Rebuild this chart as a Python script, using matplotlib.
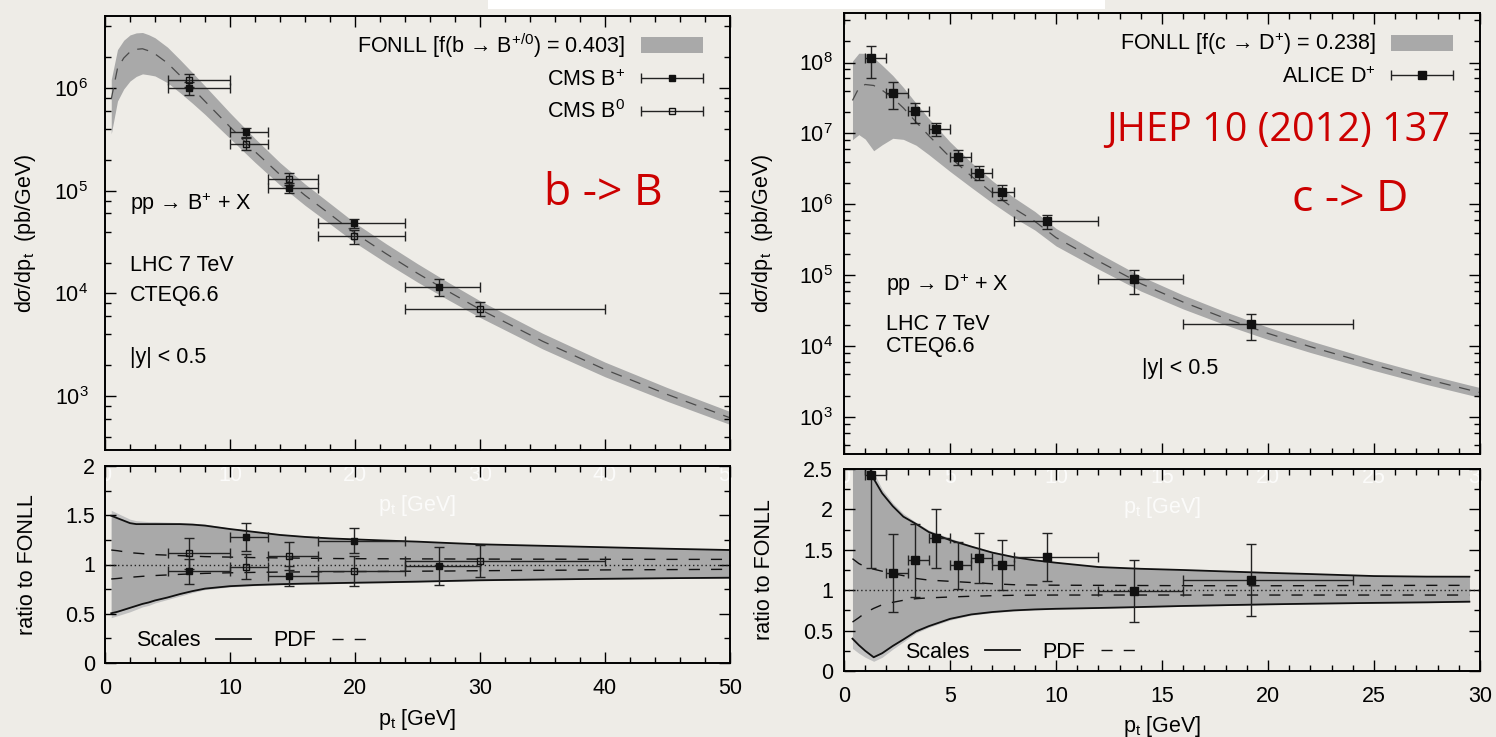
import numpy as np
import matplotlib
matplotlib.use("Agg")
import matplotlib.pyplot as plt
from matplotlib.ticker import MultipleLocator, LogLocator, NullFormatter, LogFormatterMathtext
from matplotlib.patches import Patch, Rectangle
from matplotlib.lines import Line2D
from matplotlib.container import ErrorbarContainer
from matplotlib.legend_handler import HandlerErrorbar
import matplotlib.transforms as mtrans

plt.rcParams['font.family'] = ['Liberation Sans', 'DejaVu Sans']
plt.rcParams['mathtext.fontset'] = 'custom'
plt.rcParams['mathtext.rm'] = 'Liberation Sans'
plt.rcParams['mathtext.it'] = 'Liberation Sans:italic'
plt.rcParams['mathtext.bf'] = 'Liberation Sans:bold'
plt.rcParams['mathtext.sf'] = 'Liberation Sans'

# ---------------- b -> B (CMS, FONLL) ----------------
b_pt = [0.5, 1, 1.5, 2, 2.5, 3, 3.5, 4, 5, 6, 7, 8, 10, 12, 14, 16, 18, 20,
        22.5, 25, 27.5, 30, 35, 40, 45, 50]
b_central = [7.76e5, 1.55e6, 1.95e6, 2.24e6, 2.37e6, 2.40e6, 2.29e6, 2.14e6,
             1.74e6, 1.32e6, 9.9e5, 7.4e5, 4.17e5, 2.40e5, 1.43e5, 9.0e4,
             5.9e4, 3.85e4, 2.43e4, 1.57e4, 1.04e4, 7.0e3, 3.43e3, 1.82e3,
             1.04e3, 617]
b_tot_hi = [1.55, 1.52, 1.49, 1.46, 1.445, 1.44, 1.435, 1.435, 1.43, 1.425,
            1.42, 1.41, 1.37, 1.34, 1.31, 1.29, 1.275, 1.262, 1.25, 1.24,
            1.225, 1.212, 1.196, 1.18, 1.165, 1.152]
b_tot_lo = [0.46, 0.48, 0.50, 0.52, 0.545, 0.57, 0.585, 0.61, 0.645, 0.68,
            0.715, 0.745, 0.772, 0.785, 0.793, 0.80, 0.805, 0.81, 0.815,
            0.821, 0.828, 0.835, 0.843, 0.85, 0.857, 0.862]
b_sc_hi = [1.495, 1.47, 1.445, 1.42, 1.41, 1.41, 1.41, 1.41, 1.41, 1.41,
           1.405, 1.395, 1.36, 1.33, 1.30, 1.28, 1.265, 1.255, 1.243, 1.232,
           1.218, 1.205, 1.19, 1.175, 1.16, 1.147]
b_sc_lo = [0.505, 0.52, 0.54, 0.56, 0.58, 0.60, 0.615, 0.635, 0.665, 0.70,
           0.73, 0.755, 0.78, 0.792, 0.80, 0.806, 0.81, 0.815, 0.82, 0.826,
           0.833, 0.84, 0.848, 0.855, 0.861, 0.866]
b_pdf_hi = [1.147, 1.14, 1.13, 1.12, 1.115, 1.11, 1.105, 1.10, 1.095, 1.09,
            1.085, 1.08, 1.075, 1.07, 1.067, 1.064, 1.061, 1.059, 1.058,
            1.057, 1.056, 1.055, 1.054, 1.053, 1.052, 1.052]
b_pdf_lo = [0.853, 0.858, 0.865, 0.87, 0.875, 0.88, 0.884, 0.888, 0.894,
            0.90, 0.905, 0.91, 0.916, 0.92, 0.923, 0.925, 0.927, 0.928, 0.93,
            0.932, 0.934, 0.937, 0.941, 0.945, 0.948, 0.951]

bp_pt = [6.7, 11.3, 14.7, 19.9, 26.7]
bp_lo = [5, 10, 13, 17, 24]
bp_hi = [10, 13, 17, 24, 30]
bp_val = [1.0e6, 3.7e5, 1.07e5, 4.8e4, 1.16e4]
bp_err = [1.4e5, 4.0e4, 1.2e4, 5.0e3, 2.2e3]
bp_ratio = [0.93, 1.28, 0.886, 1.242, 0.985]
bp_ratio_err = [0.13, 0.14, 0.10, 0.13, 0.19]

b0_pt = [6.7, 11.3, 14.7, 19.9, 30.0]
b0_lo = [5, 10, 13, 17, 24]
b0_hi = [10, 13, 17, 24, 40]
b0_val = [1.2e6, 2.87e5, 1.31e5, 3.6e4, 7.1e3]
b0_err = [1.75e5, 3.8e4, 1.7e4, 5.8e3, 1.1e3]
b0_ratio = [1.114, 0.978, 1.086, 0.934, 1.035]
b0_ratio_err = [0.16, 0.13, 0.14, 0.15, 0.16]

# ---------------- c -> D (ALICE, FONLL) ----------------
c_pt = [0.4, 0.7, 1.0, 1.4, 1.8, 2.3, 2.8, 3.4, 4.0, 5, 6, 7, 8, 9, 10, 12,
        14, 16, 18, 20, 22, 25, 27.5, 29.5, 30]
c_central = [2.92e7, 4.37e7, 4.90e7, 4.75e7, 4.07e7, 3.16e7, 2.29e7, 1.45e7,
             9.3e6, 4.62e6, 2.51e6, 1.45e6, 8.8e5, 5.75e5, 3.39e5, 1.58e5,
             7.6e4, 4.17e4, 2.45e4, 1.51e4, 9.8e3, 5.4e3, 3.39e3, 2.40e3,
             2.21e3]
c_tot_hi = [3.6, 3.1, 2.75, 2.46, 2.25, 2.08, 1.95, 1.84, 1.745, 1.645,
            1.555, 1.48, 1.425, 1.38, 1.35, 1.295, 1.272, 1.256, 1.238,
            1.222, 1.207, 1.183, 1.176, 1.175, 1.175]
c_tot_lo = [0.28, 0.22, 0.17, 0.12, 0.17, 0.27, 0.36, 0.47, 0.54, 0.63,
            0.69, 0.72, 0.742, 0.755, 0.763, 0.773, 0.786, 0.80, 0.81, 0.82,
            0.828, 0.838, 0.845, 0.852, 0.852]
c_sc_hi = [3.5, 3.0, 2.68, 2.38, 2.2, 2.04, 1.91, 1.82, 1.72, 1.62, 1.54,
           1.465, 1.41, 1.37, 1.34, 1.287, 1.265, 1.25, 1.232, 1.215, 1.2,
           1.175, 1.168, 1.167, 1.167]
c_sc_lo = [0.40, 0.32, 0.25, 0.17, 0.22, 0.31, 0.39, 0.49, 0.555, 0.645,
           0.70, 0.73, 0.75, 0.762, 0.77, 0.78, 0.792, 0.805, 0.815, 0.825,
           0.833, 0.843, 0.85, 0.858, 0.858]
c_pdf_hi = [1.39, 1.33, 1.29, 1.26, 1.235, 1.205, 1.18, 1.145, 1.125, 1.11,
            1.095, 1.08, 1.068, 1.064, 1.062, 1.06, 1.058, 1.056, 1.055,
            1.055, 1.056, 1.058, 1.06, 1.06, 1.06]
c_pdf_lo = [0.606, 0.66, 0.72, 0.775, 0.82, 0.85, 0.875, 0.895, 0.905,
            0.916, 0.925, 0.932, 0.937, 0.939, 0.94, 0.94, 0.94, 0.94, 0.94,
            0.94, 0.94, 0.94, 0.94, 0.94, 0.94]

d_pt = [1.29, 2.33, 3.37, 4.35, 5.38, 6.39, 7.43, 9.56, 13.67, 19.18]
d_lo = [1, 2, 3, 4, 5, 6, 7, 8, 12, 16]
d_hi = [2, 3, 4, 5, 6, 7, 8, 12, 16, 24]
d_val = [1.16e8, 3.74e7, 2.04e7, 1.16e7, 4.7e6, 2.8e6, 1.51e6, 5.75e5,
         8.7e4, 2.02e4]
d_err = [5.5e7, 1.5e7, 6.5e6, 2.5e6, 1.1e6, 6.2e5, 3.5e5, 1.3e5, 3.2e4,
         8.0e3]
d_ratio = [2.42, 1.21, 1.37, 1.64, 1.31, 1.395, 1.31, 1.41, 0.99, 1.126]
d_ratio_err = [1.14, 0.48, 0.45, 0.37, 0.29, 0.31, 0.31, 0.30, 0.38, 0.45]

# ---------------- styling ----------------
BG = '#EEECE7'
BAND = '#A9A9A9'
FRINGE = '#C2C2C2'
FS = 15.5
W, H = 1496, 737

fig = plt.figure(figsize=(W / 100, H / 100), dpi=100, facecolor=BG)
fig.patches.append(Rectangle((488 / W, 1 - 9 / H), (1105 - 488) / W, 9 / H,
                             transform=fig.transFigure, facecolor='white',
                             edgecolor='none', zorder=0))


def box(x0, y0, x1, y1):
    return [x0 / W, 1 - y1 / H, (x1 - x0) / W, (y1 - y0) / H]


axB = fig.add_axes(box(105, 16, 730, 450))
axBr = fig.add_axes(box(105, 466, 730, 663))
axD = fig.add_axes(box(844, 13, 1480, 454))
axDr = fig.add_axes(box(844, 469, 1480, 671))


def style(ax, xmajor, xminor, ylog=False, ymajor=None, yminor=None, ypad=8):
    ax.set_facecolor('none')
    for s in ax.spines.values():
        s.set_linewidth(1.4)
        s.set_zorder(10)
    ax.xaxis.set_major_locator(MultipleLocator(xmajor))
    ax.xaxis.set_minor_locator(MultipleLocator(xminor))
    if ylog:
        ax.set_yscale('log')
        ax.yaxis.set_major_locator(LogLocator(base=10, numticks=20))
        ax.yaxis.set_minor_locator(LogLocator(base=10, subs=[2, 4, 6, 8], numticks=20))
        ax.yaxis.set_major_formatter(LogFormatterMathtext())
        ax.yaxis.set_minor_formatter(NullFormatter())
    else:
        ax.yaxis.set_major_locator(MultipleLocator(ymajor))
        ax.yaxis.set_minor_locator(MultipleLocator(yminor))
    ax.tick_params(which='both', direction='in', top=True, right=True,
                   width=1.0, labelsize=FS, colors='black')
    ax.tick_params(which='major', length=8)
    ax.tick_params(which='minor', length=4)
    ax.tick_params(axis='x', pad=11)
    ax.tick_params(axis='y', pad=ypad)


def ratio_fmt(v, _):
    return '%g' % v


def draw_upper(ax, pt, central, tlo, thi):
    pt = np.asarray(pt)
    c = np.asarray(central)
    ax.fill_between(pt, c * np.asarray(tlo), c * np.asarray(thi),
                    color=BAND, lw=0, zorder=1)
    ax.plot(pt, c, color='#4a4a4a', lw=0.9, dashes=(9, 7), zorder=2)


def draw_ratio(ax, pt, tlo, thi, slo, shi, plo, phi, mask=None):
    pt = np.asarray(pt)
    m = np.ones(len(pt), bool) if mask is None else mask
    ax.fill_between(pt[m], np.asarray(tlo)[m], np.asarray(thi)[m],
                    color=FRINGE, lw=0, zorder=1)
    ax.fill_between(pt[m], np.asarray(slo)[m], np.asarray(shi)[m],
                    color=BAND, lw=0, zorder=1.5)
    ax.plot(pt[m], np.asarray(shi)[m], color='#111111', lw=1.3, zorder=3)
    ax.plot(pt[m], np.asarray(slo)[m], color='#111111', lw=1.3, zorder=3)
    ax.plot(pt[m], np.asarray(phi)[m], color='#111111', lw=1.0, dashes=(8, 8), zorder=3)
    ax.plot(pt[m], np.asarray(plo)[m], color='#111111', lw=1.0, dashes=(8, 8), zorder=3)
    ax.axhline(1.0, color='#222222', lw=1.0, ls=(0, (1, 2)), zorder=3)


def draw_points(ax, x, lo, hi, y, yerr, filled, ms):
    x = np.asarray(x)
    xerr = [x - np.asarray(lo), np.asarray(hi) - x]
    ax.errorbar(x, y, xerr=xerr, yerr=yerr, fmt='s', ms=ms,
                mfc='#111111' if filled else 'none', mec='#111111', mew=1.0,
                ecolor='#222222', elinewidth=1.0, capsize=3.5, capthick=1.0,
                zorder=5)


def legend_proxy(ax, filled, ms):
    return ax.errorbar([np.nan], [np.nan], xerr=[[1.0], [1.0]], fmt='s', ms=ms,
                       mfc='#111111' if filled else 'none', mec='#111111',
                       mew=1.0, ecolor='#222222', elinewidth=1.0, capsize=3.5,
                       capthick=1.0)


def ghost_labels(ax, ticks, yfrac, xlab_x, xlab_yfrac):
    # tick labels of the panel above, showing faintly through this one
    tr = mtrans.blended_transform_factory(ax.transData, ax.transAxes)
    for t in ticks:
        ax.text(t, yfrac, '%g' % t, transform=tr, ha='center', va='center',
                fontsize=FS, color='white', alpha=0.8, clip_on=True, zorder=0.5)
    ax.text(xlab_x, xlab_yfrac, r'p$_\mathregular{t}$ [GeV]', transform=tr,
            ha='center', va='center', fontsize=FS, color='white', alpha=0.8,
            clip_on=True, zorder=0.5)


# ---------------- left: b -> B ----------------
style(axB, 10, 2, ylog=True, ypad=12)
axB.set_xlim(0, 50)
axB.set_ylim(3e2, 5e6)
axB.tick_params(axis='x', labelbottom=False)
draw_upper(axB, b_pt, b_central, b_tot_lo, b_tot_hi)
draw_points(axB, bp_pt, bp_lo, bp_hi, bp_val, bp_err, True, 4)
draw_points(axB, b0_pt, b0_lo, b0_hi, b0_val, b0_err, False, 4)
axB.set_ylabel(r'd$\sigma$/dp$_\mathregular{t}$  (pb/GeV)', fontsize=FS)
axB.yaxis.set_label_coords(-0.107, 0.5)

hB = [Patch(facecolor=BAND, edgecolor='none'),
      legend_proxy(axB, True, 4), legend_proxy(axB, False, 4)]
lB = [r'FONLL [f(b → B$^{+/0}$) = 0.403]', r'CMS B$^{+}$', r'CMS B$^{0}$']
axB.legend(hB, lB, loc='upper right', bbox_to_anchor=(1 - 27 / 625, 1 - 15 / 434),
           frameon=False, markerfirst=False, fontsize=FS, handlelength=2.9,
           handleheight=0.8, handletextpad=0.7, labelspacing=0.45, borderpad=0,
           borderaxespad=0,
           handler_map={ErrorbarContainer: HandlerErrorbar(xerr_size=1.45)})

axB.text(0.04, 0.567, r'pp → B$^{+}$ + X', transform=axB.transAxes,
         fontsize=FS, va='center', ha='left')
axB.text(0.04, 0.426, 'LHC 7 TeV', transform=axB.transAxes, fontsize=FS,
         va='center', ha='left')
axB.text(0.04, 0.357, 'CTEQ6.6', transform=axB.transAxes, fontsize=FS,
         va='center', ha='left')
axB.text(0.04, 0.212, '|y| < 0.5', transform=axB.transAxes, fontsize=FS,
         va='center', ha='left')
axB.text(0.797, 0.590, 'b -> B', transform=axB.transAxes, fontsize=32,
         color='#CC0000', family='Open Sans', va='center', ha='center')

style(axBr, 10, 2, ymajor=0.5, yminor=0.25, ypad=7)
axBr.set_xlim(0, 50)
axBr.set_ylim(0, 2)
axBr.yaxis.set_major_formatter(ratio_fmt)
draw_ratio(axBr, b_pt, b_tot_lo, b_tot_hi, b_sc_lo, b_sc_hi, b_pdf_lo, b_pdf_hi)
draw_points(axBr, bp_pt, bp_lo, bp_hi, bp_ratio, bp_ratio_err, True, 4)
draw_points(axBr, b0_pt, b0_lo, b0_hi, b0_ratio, b0_ratio_err, False, 4)
ghost_labels(axBr, [0, 10, 20, 30, 40, 50], 0.954, 25, 0.802)
axBr.set_ylabel('ratio to FONLL', fontsize=FS)
axBr.yaxis.set_label_coords(-0.107, 0.5)
axBr.set_xlabel(r'p$_\mathregular{t}$ [GeV]', fontsize=FS, va='top')
axBr.xaxis.set_label_coords(0.5, -0.223)
axBr.legend([Line2D([], [], color='#111111', lw=1.3),
             Line2D([], [], color='#111111', lw=1.0, dashes=(8, 8))],
            ['Scales', 'PDF'], ncol=2, loc='center left',
            bbox_to_anchor=(31 / 625, 22 / 197), frameon=False,
            markerfirst=False, fontsize=FS, handlelength=1.65,
            handletextpad=0.7, columnspacing=1.05, borderpad=0, borderaxespad=0)

# ---------------- right: c -> D ----------------
style(axD, 5, 1, ylog=True, ypad=8)
axD.set_xlim(0, 30)
axD.set_ylim(3e2, 5e8)
axD.tick_params(axis='x', labelbottom=False)
draw_upper(axD, c_pt, c_central, c_tot_lo, c_tot_hi)
draw_points(axD, d_pt, d_lo, d_hi, d_val, d_err, True, 5.5)
axD.set_ylabel(r'd$\sigma$/dp$_\mathregular{t}$  (pb/GeV)', fontsize=FS)
axD.yaxis.set_label_coords(-0.1085, 0.5)

hD = [Patch(facecolor=BAND, edgecolor='none'), legend_proxy(axD, True, 5.5)]
lD = [r'FONLL [f(c → D$^{+}$) = 0.238]', r'ALICE D$^{+}$']
axD.legend(hD, lD, loc='upper right', bbox_to_anchor=(1 - 27 / 636, 1 - 18 / 441),
           frameon=False, markerfirst=False, fontsize=FS, handlelength=2.9,
           handleheight=0.8, handletextpad=0.7, labelspacing=0.4, borderpad=0,
           borderaxespad=0,
           handler_map={ErrorbarContainer: HandlerErrorbar(xerr_size=1.45)})

axD.text(0.066, 0.383, r'pp → D$^{+}$ + X', transform=axD.transAxes,
         fontsize=FS, va='center', ha='left')
axD.text(0.066, 0.293, 'LHC 7 TeV', transform=axD.transAxes, fontsize=FS,
         va='center', ha='left')
axD.text(0.066, 0.243, 'CTEQ6.6', transform=axD.transAxes, fontsize=FS,
         va='center', ha='left')
axD.text(0.4686, 0.193, '|y| < 0.5', transform=axD.transAxes, fontsize=FS,
         va='center', ha='left')
axD.text(0.682, 0.732, 'JHEP 10 (2012) 137', transform=axD.transAxes,
         fontsize=28.5, color='#CC0000', family='Open Sans', va='center',
         ha='center')
axD.text(0.796, 0.576, 'c -> D', transform=axD.transAxes, fontsize=32,
         color='#CC0000', family='Open Sans', va='center', ha='center')

style(axDr, 5, 1, ymajor=0.5, yminor=0.25, ypad=8)
axDr.set_xlim(0, 30)
axDr.set_ylim(0, 2.5)
axDr.yaxis.set_major_formatter(ratio_fmt)
draw_ratio(axDr, c_pt, c_tot_lo, c_tot_hi, c_sc_lo, c_sc_hi, c_pdf_lo,
           c_pdf_hi, mask=np.asarray(c_pt) <= 29.5)
draw_points(axDr, d_pt, d_lo, d_hi, d_ratio, d_ratio_err, True, 5.5)
ghost_labels(axDr, [0, 5, 10, 15, 20, 25, 30], 0.96, 15, 0.807)
axDr.set_ylabel('ratio to FONLL', fontsize=FS)
axDr.yaxis.set_label_coords(-0.1085, 0.5)
axDr.set_xlabel(r'p$_\mathregular{t}$ [GeV]', fontsize=FS, va='top')
axDr.xaxis.set_label_coords(0.5, -0.212)
axDr.legend([Line2D([], [], color='#111111', lw=1.3),
             Line2D([], [], color='#111111', lw=1.0, dashes=(8, 8))],
            ['Scales', 'PDF'], ncol=2, loc='center left',
            bbox_to_anchor=(61 / 636, 19 / 202), frameon=False,
            markerfirst=False, fontsize=FS, handlelength=1.65,
            handletextpad=0.7, columnspacing=1.05, borderpad=0, borderaxespad=0)

fig.savefig('out.png', dpi=100, facecolor=BG)
